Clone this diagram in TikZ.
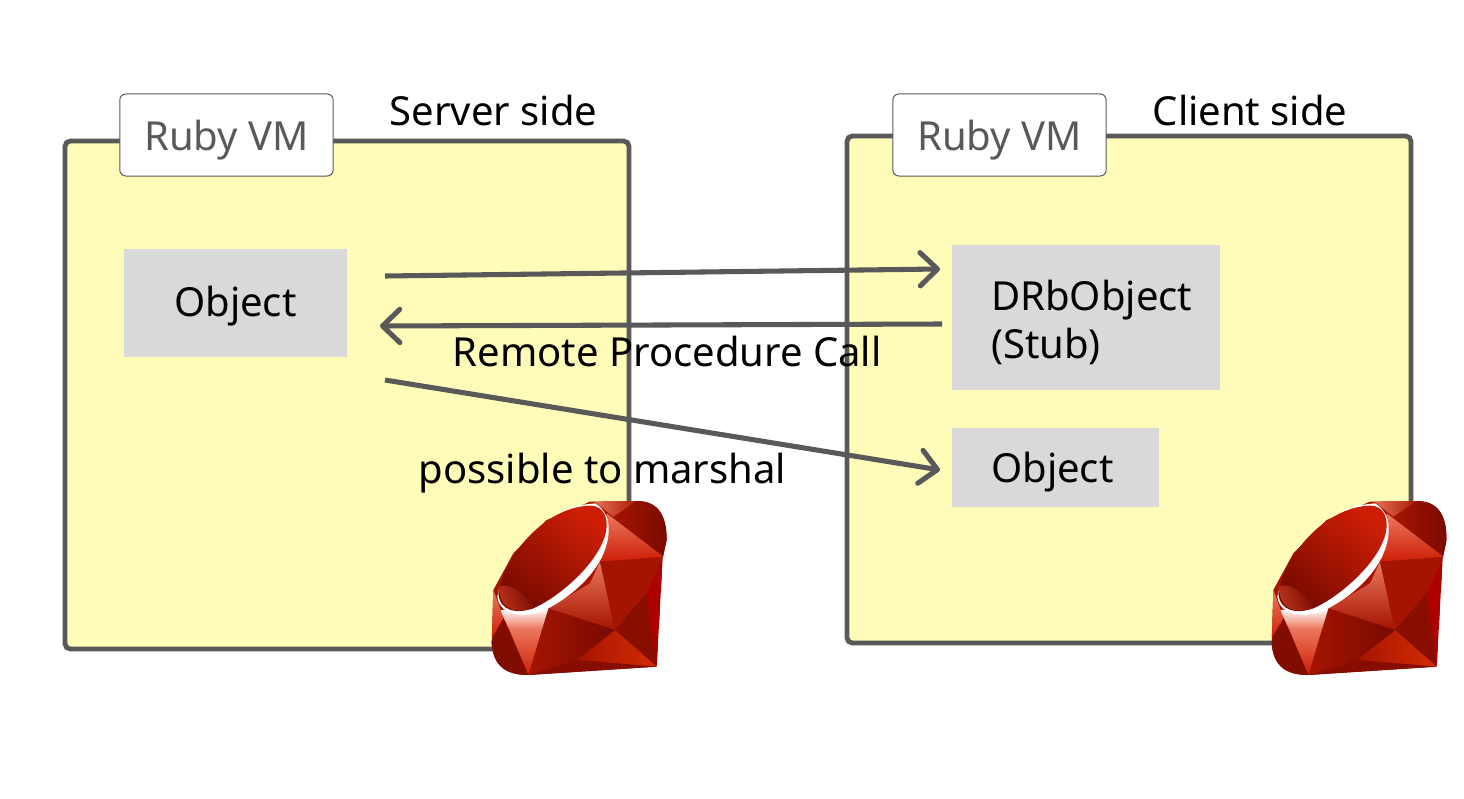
\documentclass[tikz,border=0pt]{standalone}
\usepackage{fontspec}
\setmainfont{Noto Sans}
\usetikzlibrary{arrows.meta}
\definecolor{panelfill}{RGB}{255,251,185}
\definecolor{linegray}{RGB}{89,89,89}
\definecolor{boxgray}{RGB}{217,217,217}
\definecolor{gemdark}{RGB}{120,10,0}
\definecolor{gemmid}{RGB}{165,20,0}
\definecolor{gemred}{RGB}{205,30,5}
\definecolor{gemcrimson}{RGB}{175,0,0}
\definecolor{gemlight}{RGB}{235,120,95}
\tikzset{
  font=\fontsize{30}{36}\selectfont,
  panel/.style={draw=linegray,line width=3.6pt,fill=panelfill,rounded corners=4pt},
  vmtab/.style={
    draw=linegray,
    line width=0.75pt,
    fill=white,
    rounded corners=4.5pt,
    minimum width=160pt,
    minimum height=61.5pt,
    text depth=0pt,
    text=linegray
  },
  objbox/.style={fill=boxgray,anchor=north west,align=left,inner ysep=0pt},
  side/.style={anchor=base west},
  arrow/.style={
    -{Straight Barb[length=13pt,width=25pt,round,line width=3.8pt]},
    draw=linegray,
    line width=3.8pt
  },
  rubygem/.pic={
    \begin{scope}[x=0.25pt,y=-0.25pt,line join=round]
      \begin{scope}
        \clip (330,35) -- (470,33) .. controls (530,33) and (560,70) .. (560,150)
          -- (548,205) -- (530,530) -- (145,555) .. controls (80,555) and (40,530) .. (35,460)
          -- (40,300) -- (100,190) -- (200,90) -- cycle;
        \fill[gemmid] (0,0) rectangle (600,600);
        \path[left color=gemmid,right color=gemdark] (400,80) -- (470,20) -- (570,60) -- (570,150) -- (548,205) -- cycle;
        \path[left color=gemlight,right color=gemmid] (330,25) -- (480,25) -- (400,80) -- cycle;
        \path[top color=gemlight,middle color=gemred,bottom color=gemred] (380,70) -- (550,200) -- (360,215) -- cycle;
        \path[top color=gemlight,middle color=gemred,bottom color=gemmid] (360,215) -- (405,420) -- (205,355) -- (330,280) -- cycle;
        \fill[gemmid] (360,215) -- (548,205) -- (500,310) -- (405,420) -- cycle;
        \fill[gemcrimson] (548,205) -- (530,530) -- (500,310) -- cycle;
        \fill[gemdark!60!gemmid] (405,420) -- (500,310) -- (530,530) -- cycle;
        \path[left color=gemmid,right color=gemred!85!orange] (405,420) -- (530,530) -- (290,510) -- cycle;
        \path[left color=gemmid,right color=gemdark] (205,355) -- (405,420) -- (290,510) -- (145,555) -- cycle;
        \fill[gemdark!70!gemmid] (290,510) -- (530,530) -- (145,555) -- cycle;
        \path[top color=white,bottom color=gemlight] (60,360) -- (205,355) -- (187,415) -- (86,415) -- cycle;
        \path[top color=gemlight,bottom color=gemred] (86,414) -- (187,414) -- (145,555) -- cycle;
        \fill[gemdark!80!gemmid] (70,385) -- (145,555) -- (60,570) -- (20,480) -- cycle;
        \path[top color=gemlight,bottom color=gemred] (40,300) -- (55,340) -- (70,385) -- (30,450) -- cycle;
      \end{scope}
      \fill[white] (52,320) .. controls (60,385) and (150,385) .. (205,355)
        .. controls (290,310) and (390,220) .. (386,110)
        .. controls (385,85) and (372,55) .. (345,40) -- (300,45)
        .. controls (200,65) and (75,200) .. (52,320) -- cycle;
      \path[top color=gemred,bottom color=gemdark,shading angle=-40]
        (55,310) .. controls (75,190) and (200,50) .. (330,47)
        .. controls (375,47) and (385,90) .. (378,125)
        .. controls (360,215) and (240,320) .. (160,355)
        .. controls (110,372) and (60,365) .. (55,310) -- cycle;
      \path[left color=gemmid!70!gemlight,right color=gemdark,shading angle=110]
        (56,290) .. controls (90,275) and (130,310) .. (165,352)
        .. controls (110,372) and (60,365) .. (56,290) -- cycle;
    \end{scope}
  }
}
\begin{document}
\begin{tikzpicture}[x=0.75pt,y=-0.75pt]

  \useasboundingbox (0,0) rectangle (1464,799);

  \draw[panel] (65,141) rectangle (629,649);
  \draw[panel] (847,136) rectangle (1411,643);

  \node[vmtab] at (226.5,135) (tabserver) {Ruby VM};
  \node[vmtab] at (999.5,135) (tabclient) {Ruby VM};

  \node[side] at (385,125) (serverside) {Server side};
  \node[side] at (1148,125) (clientside) {Client side};

  \node[objbox,text width=92.25pt,inner xsep=37.5pt,minimum height=81pt,text depth=3.5pt] at (124,249) (object) {Object};
  \node[objbox,text width=142.5pt,inner xsep=29.25pt,minimum height=108.75pt,text depth=34pt] at (952,245) (stub) {DRbObject\\(Stub)};
  \node[objbox,text width=96.75pt,inner xsep=29.25pt,minimum height=59.25pt,text depth=0pt] at (952,428) (copy) {Object};

  \node[side] at (448,366) (rpclabel) {Remote Procedure Call};
  \node[side] at (414,483) (marshallabel) {possible to marshal};

  \coordinate (callstart) at (385,276);
  \coordinate (callend) at (940,269);
  \coordinate (backstart) at (942,324);
  \coordinate (backend) at (380,326);
  \coordinate (copystart) at (385,380);
  \coordinate (copyend) at (940,470);

  \draw[arrow] (callstart) -- (callend);
  \draw[arrow] (backstart) -- (backend);
  \draw[arrow] (copystart) -- (copyend);

  \pic at (480,490) {rubygem};
  \pic at (1260,490) {rubygem};

\end{tikzpicture}
\end{document}
